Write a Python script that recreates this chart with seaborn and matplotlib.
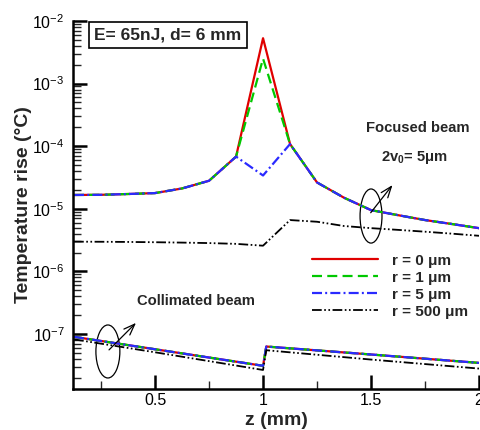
import matplotlib
matplotlib.use("Agg")
import matplotlib.pyplot as plt
import seaborn as sns
import numpy as np
import pandas as pd
from matplotlib.patches import Ellipse
from matplotlib.ticker import FixedLocator, LogLocator, NullFormatter, LogFormatterMathtext

# ---------------- data ----------------
z_focus = [0.125, 0.25, 0.375, 0.5, 0.625, 0.75, 0.875, 1.0,
           1.125, 1.25, 1.375, 1.5, 1.625, 1.75, 1.875, 2.0]
focus_r0 = [1.66e-5, 1.67e-5, 1.72e-5, 1.78e-5, 2.11e-5, 2.8e-5, 6.8e-5, 5.3e-3,
            1.08e-4, 2.63e-5, 1.5e-5, 9.5e-6, 7.9e-6, 6.6e-6, 5.7e-6, 4.9e-6]
focus_r1 = [1.66e-5, 1.67e-5, 1.72e-5, 1.78e-5, 2.11e-5, 2.8e-5, 6.8e-5, 2.5e-3,
            1.08e-4, 2.63e-5, 1.5e-5, 9.5e-6, 7.9e-6, 6.6e-6, 5.7e-6, 4.9e-6]
focus_r5 = [1.66e-5, 1.67e-5, 1.72e-5, 1.78e-5, 2.11e-5, 2.8e-5, 6.8e-5, 3.4e-5,
            1.08e-4, 2.63e-5, 1.5e-5, 9.5e-6, 7.9e-6, 6.6e-6, 5.7e-6, 4.9e-6]
focus_r500 = [2.98e-6, 2.97e-6, 2.95e-6, 2.92e-6, 2.88e-6, 2.83e-6, 2.75e-6, 2.57e-6,
              6.6e-6, 6.2e-6, 5.3e-6, 4.9e-6, 4.6e-6, 4.3e-6, 4.0e-6, 3.7e-6]

z_coll = [0.125, 0.5, 1.0, 1.015, 1.5, 2.0]
coll_r0 = [9.0e-8, 5.7e-8, 3.1e-8, 6.3e-8, 4.7e-8, 3.45e-8]
coll_r500 = [8.2e-8, 5.1e-8, 2.66e-8, 5.5e-8, 3.9e-8, 2.8e-8]

labels = ["r = 0 μm", "r = 1 μm", "r = 5 μm", "r = 500 μm"]
x_ticks = [0.5, 1.0, 1.5, 2.0]
x_tick_labels = ["0.5", "1", "1.5", "2"]

# ---------------- style ----------------
sns.set_style("white")
plt.rcParams["font.family"] = ["Liberation Sans", "DejaVu Sans"]
plt.rcParams["mathtext.fontset"] = "custom"
plt.rcParams["mathtext.rm"] = "Liberation Sans"
plt.rcParams["mathtext.it"] = "Liberation Sans:italic"
plt.rcParams["mathtext.bf"] = "Liberation Sans:bold"
plt.rcParams["mathtext.default"] = "regular"
plt.rcParams["lines.scale_dashes"] = False

fig = plt.figure(figsize=(4.8, 4.3), dpi=100)
ax = fig.add_axes([0.152, 0.0953, 0.846, 0.856])

styles = [
    dict(color="#e00000", lw=1.6, ls="-"),
    dict(color="#00c800", lw=1.6, ls=(0, (7.2, 3.8))),
    dict(color="#2a2aff", lw=1.6, ls=(0, (7.2, 2.3, 1.4, 2.3))),
    dict(color="black", lw=1.3, ls=(0, (7.0, 1.8, 1.2, 1.8, 1.2, 1.8))),
]
focus_series = [focus_r0, focus_r1, focus_r5, focus_r500]
coll_series = [coll_r0, coll_r0, coll_r0, coll_r500]

for vals, cvals, st, lab in zip(focus_series, coll_series, styles, labels):
    sns.lineplot(x=z_focus, y=vals, ax=ax, color=st["color"], linewidth=st["lw"],
                 linestyle=st["ls"], label=lab, sort=False, estimator=None)
    sns.lineplot(x=z_coll, y=cvals, ax=ax, color=st["color"], linewidth=st["lw"],
                 linestyle=st["ls"], sort=False, estimator=None, legend=False)

ax.set_yscale("log")
ax.set_xlim(0.12, 2.0)
ax.set_ylim(1.32e-8, 1e-2)

ax.xaxis.set_major_locator(FixedLocator(x_ticks))
ax.set_xticklabels(x_tick_labels)
ax.xaxis.set_minor_locator(FixedLocator([0.25, 0.75, 1.25, 1.75]))
ax.yaxis.set_major_locator(LogLocator(base=10, numticks=20))
ax.yaxis.set_major_formatter(LogFormatterMathtext())
ax.yaxis.set_minor_locator(LogLocator(base=10, subs=np.arange(2, 10), numticks=40))
ax.yaxis.set_minor_formatter(NullFormatter())

ax.tick_params(which="major", direction="in", length=10, width=1.8, labelsize=11.5,
               colors="black", pad=6)
ax.tick_params(axis="x", which="major", pad=3)
ax.tick_params(which="minor", direction="in", length=5.5, width=1.0)
ax.tick_params(axis="x", which="both", bottom=True, top=False)
ax.tick_params(axis="y", which="both", left=True, right=False)

for s in ["top", "right"]:
    ax.spines[s].set_visible(False)
for s in ["left", "bottom"]:
    ax.spines[s].set_linewidth(1.8)
    ax.spines[s].set_color("black")

ax.set_xlabel("z (mm)", fontsize=14, fontweight="bold", labelpad=3)
ax.set_ylabel("Temperature rise (°C)", fontsize=14, fontweight="bold", labelpad=0)

leg = ax.legend(loc="upper left", bbox_to_anchor=(0.589, 0.368), frameon=False,
                prop=dict(size=11, weight="bold"), handlelength=4.3,
                handletextpad=0.9, labelspacing=0.2, borderpad=0, borderaxespad=0)

ax.text(0.234, 0.962, "E= 65nJ, d= 6 mm", transform=ax.transAxes, ha="center",
        va="center", fontsize=12.5, fontweight="bold",
        bbox=dict(boxstyle="square,pad=0.3", fc="white", ec="black", lw=1.2))
ax.text(0.850, 0.709, "Focused beam", transform=ax.transAxes, ha="center",
        va="center", fontsize=10.6, fontweight="bold")
ax.text(0.842, 0.630, r"2v$_{\mathbf{0}}$= 5μm", transform=ax.transAxes, ha="center",
        va="center", fontsize=10.6, fontweight="bold")
ax.text(0.303, 0.239, "Collimated beam", transform=ax.transAxes, ha="center",
        va="center", fontsize=10.6, fontweight="bold")

ax.add_patch(Ellipse((0.734, 0.470), 0.054, 0.147, transform=ax.transAxes,
                     fill=False, ec="black", lw=0.9))
ax.add_patch(Ellipse((0.086, 0.102), 0.059, 0.144, transform=ax.transAxes,
                     fill=False, ec="black", lw=0.9))
ax.annotate("", xy=(0.791, 0.560), xytext=(0.729, 0.473), xycoords="axes fraction",
            arrowprops=dict(arrowstyle="->,head_length=0.8,head_width=0.3", lw=0.9, color="black"))
ax.annotate("", xy=(0.160, 0.185), xytext=(0.084, 0.101), xycoords="axes fraction",
            arrowprops=dict(arrowstyle="->,head_length=0.8,head_width=0.3", lw=0.9, color="black"))

fig.savefig("out.png", dpi=100)
